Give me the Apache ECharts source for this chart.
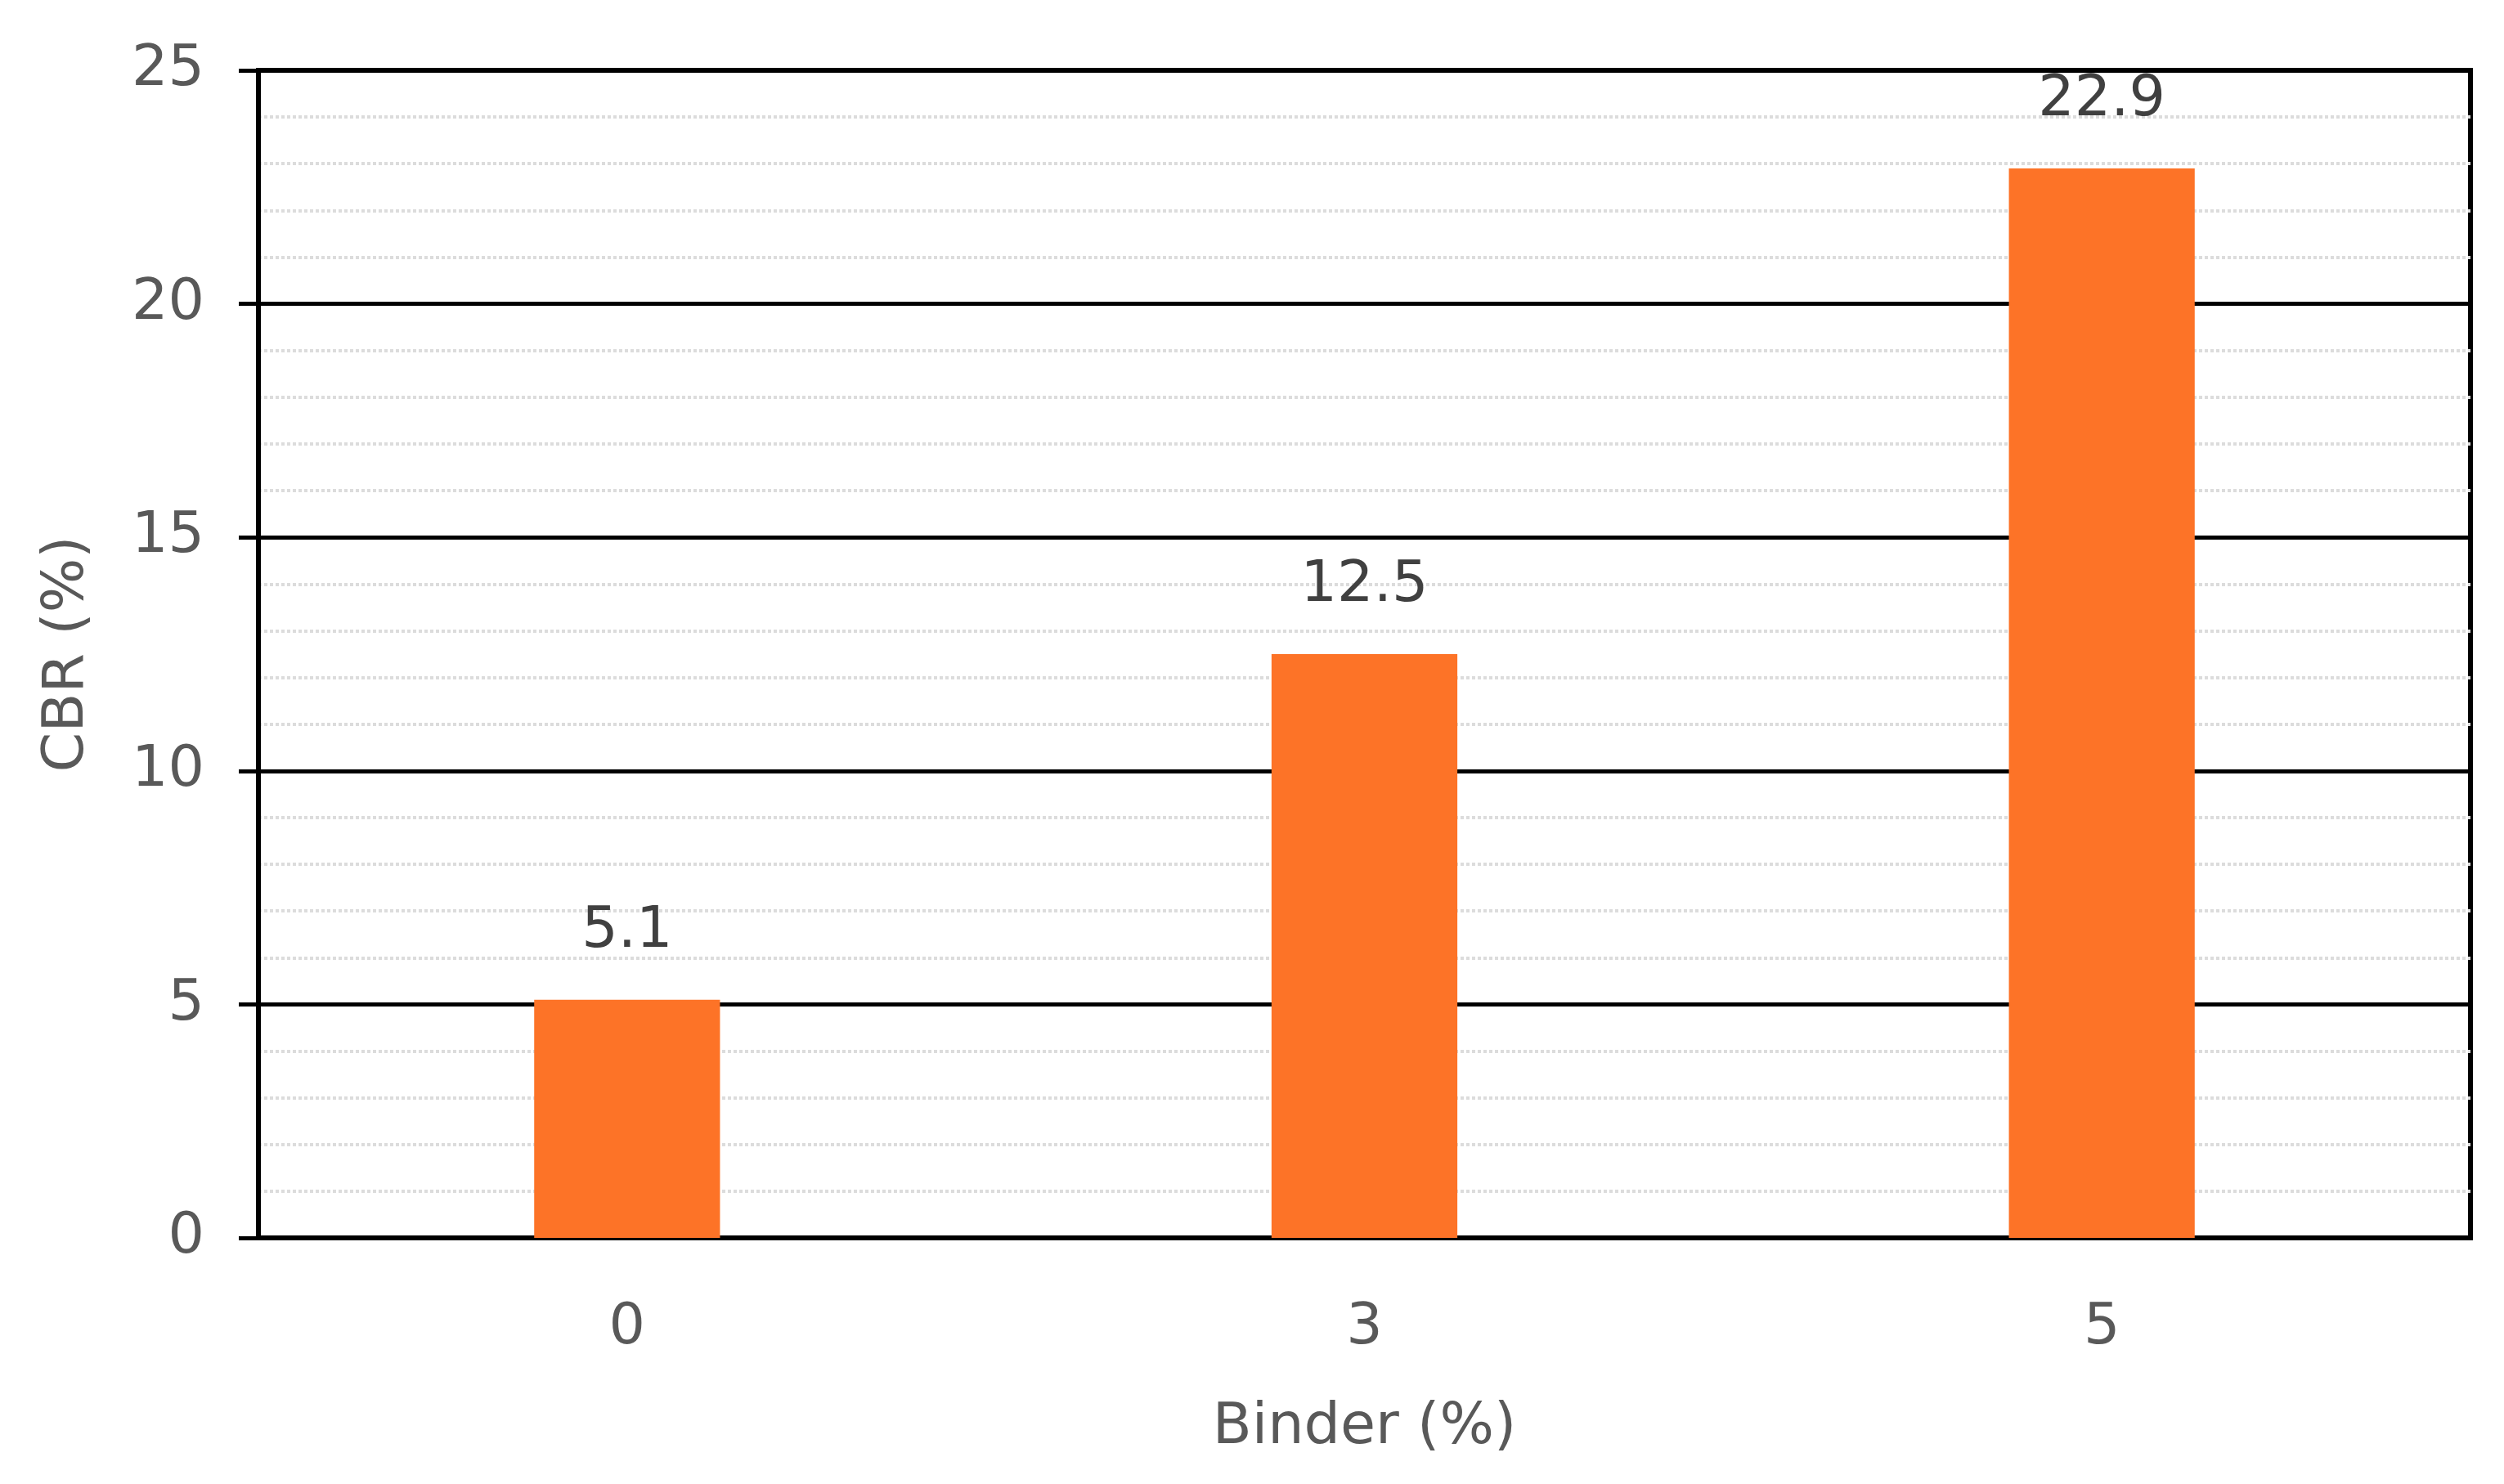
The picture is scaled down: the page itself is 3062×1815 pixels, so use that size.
<!DOCTYPE html>
<html><head><meta charset="utf-8">
<script src="https://cdn.jsdelivr.net/npm/echarts@6/dist/echarts.min.js"></script>
<style>html,body{margin:0;padding:0;background:#fff}#c{width:3062px;height:1815px}</style>
</head><body><div id="c"></div>
<script>
const categories = ['0', '3', '5'];
const cbrValues = [5.1, 12.5, 22.9];
const yTicks = [0, 5, 10, 15, 20, 25];
const xName = 'Binder (%)';
const yName = 'CBR (%)';

const FONT = 'DejaVu Sans';
const chart = echarts.init(document.getElementById('c'), null, {renderer: 'canvas'});
chart.setOption({
  backgroundColor: '#ffffff',
  animation: false,
  grid: {left: 316, right: 41, top: 86, bottom: 301, show: true, borderColor: '#000', borderWidth: 6, backgroundColor: 'transparent'},
  xAxis: {
    type: 'category', data: categories,
    axisLine: {show: true, lineStyle: {color: '#000', width: 6}},
    axisTick: {show: false},
    axisLabel: {color: '#595959', fontSize: 70, fontFamily: FONT, margin: 76},
    name: xName, nameLocation: 'middle', nameGap: 198,
    nameTextStyle: {color: '#595959', fontSize: 70, fontFamily: FONT}
  },
  yAxis: {
    type: 'value', min: yTicks[0], max: yTicks[yTicks.length - 1], interval: 5,
    axisLine: {show: true, lineStyle: {color: '#000', width: 6}},
    axisTick: {show: true, inside: false, length: 24, lineStyle: {color: '#000', width: 5}},
    axisLabel: {color: '#595959', fontSize: 70, fontFamily: FONT, margin: 66},
    splitLine: {show: true, lineStyle: {color: '#000', width: 5}},
    minorTick: {show: false, splitNumber: 5},
    minorSplitLine: {show: true, lineStyle: {color: '#dcdcdc', width: 4, type: [4, 3]}},
    name: yName, nameLocation: 'middle', nameGap: 198,
    nameTextStyle: {color: '#595959', fontSize: 70, fontFamily: FONT}
  },
  series: [{
    type: 'bar', data: cbrValues, barWidth: '25.2%',
    itemStyle: {color: '#FD7327'},
    label: {show: true, position: 'top', distance: 48, color: '#404040', fontSize: 70, fontFamily: FONT}
  }]
});
</script></body></html>
